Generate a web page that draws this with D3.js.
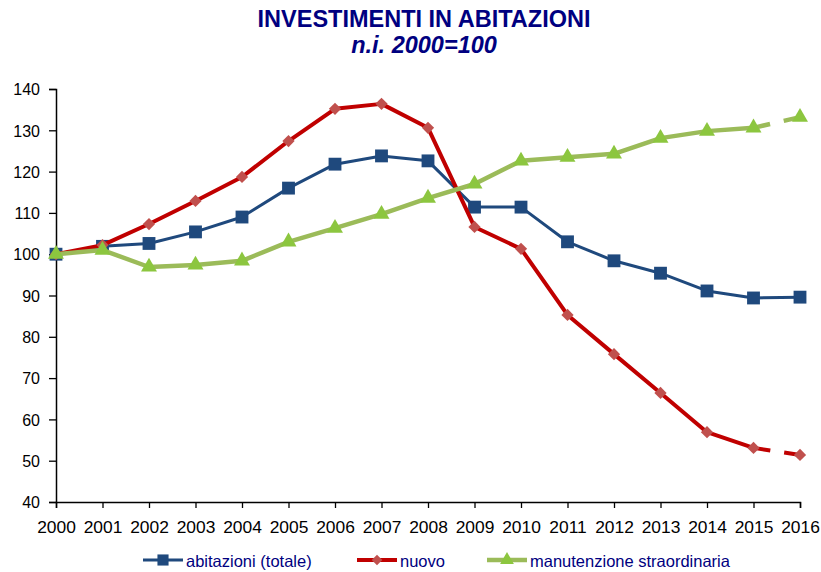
<!DOCTYPE html>
<html>
<head>
<meta charset="utf-8">
<script src="https://d3js.org/d3.v7.min.js"></script>
<style>
  body { margin: 0; background: #fff; }
  text { font-family: "Liberation Sans", Arial, sans-serif; }
</style>
</head>
<body>
<svg id="chart" width="821" height="572"></svg>
<script>
// data
const years = ["2000","2001","2002","2003","2004","2005","2006","2007","2008","2009","2010","2011","2012","2013","2014","2015","2016"];
const totale = [100, 101.9, 102.6, 105.4, 109, 116, 121.8, 123.8, 122.6, 111.4, 111.4, 103, 98.4, 95.4, 91.1, 89.4, 89.6];
const nuovo = [100, 102.2, 107.3, 112.9, 118.7, 127.4, 135.2, 136.4, 130.6, 106.6, 101.3, 85.3, 75.8, 66.4, 56.9, 53.1, 51.4];
const manutenzione = [100, 101, 96.9, 97.4, 98.4, 103, 106.3, 109.7, 113.6, 117, 122.6, 123.5, 124.3, 128.1, 129.8, 130.6, 133.2];
const yTicks = [40, 50, 60, 70, 80, 90, 100, 110, 120, 130, 140];

const series = [
  {name: "abitazioni (totale)", values: totale, line: "#1F497D", marker: "#1F497D", width: 3, shape: d3.symbolSquare, size: 165, rot: 0, dashLast: false},
  {name: "nuovo", values: nuovo, line: "#C00000", marker: "#C0504D", width: 4, shape: d3.symbolSquare, size: 75, rot: 45, dashLast: true},
  {name: "manutenzione straordinaria", values: manutenzione, line: "#9BBB59", marker: "#8CC63F", width: 4.5, shape: d3.symbolTriangle, size: 110, rot: 0, dashLast: true}
];

const svg = d3.select("#chart");

const x = d3.scalePoint().domain(years).range([56, 800]);
const y = d3.scaleLinear().domain([40, 140]).range([502, 89]);

// title
svg.append("text")
  .attr("x", 424).attr("y", 27)
  .attr("text-anchor", "middle")
  .style("font-size", "23.5px").style("font-weight", "bold")
  .attr("fill", "#000080")
  .text("INVESTIMENTI IN ABITAZIONI");
svg.append("text")
  .attr("x", 424).attr("y", 53)
  .attr("text-anchor", "middle")
  .style("font-size", "23.5px").style("font-weight", "bold").style("font-style", "italic")
  .attr("fill", "#000080")
  .text("n.i. 2000=100");

// axes
const yAxis = svg.append("g")
  .attr("transform", "translate(56,0)")
  .call(d3.axisLeft(y).tickValues(yTicks).tickSize(7).tickPadding(9));
const xAxis = svg.append("g")
  .attr("transform", "translate(0,502)")
  .call(d3.axisBottom(x).tickSize(6).tickPadding(13));
[yAxis, xAxis].forEach(function(a) {
  a.select(".domain").attr("stroke", "#000").attr("stroke-width", 1.5);
  a.selectAll(".tick line").attr("stroke", "#000").attr("stroke-width", 1.3);
  a.selectAll(".tick text").attr("fill", "#000")
    .style("font-family", "'Liberation Sans', Arial, sans-serif");
});
yAxis.selectAll(".tick text").style("font-size", "16px").attr("dy", "0.36em");
xAxis.selectAll(".tick text").style("font-size", "17.4px");

const line = d3.line()
  .x(function(d) { return x(d.year); })
  .y(function(d) { return y(d.v); });

series.forEach(function(s) {
  const pts = years.map(function(yr, i) { return {year: yr, v: s.values[i]}; });
  const n = pts.length;
  const g = svg.append("g");
  g.append("path")
    .attr("d", line(s.dashLast ? pts.slice(0, n - 1) : pts))
    .attr("fill", "none")
    .attr("stroke", s.line)
    .attr("stroke-width", s.width)
    .attr("stroke-linejoin", "round");
  if (s.dashLast) {
    g.append("path")
      .attr("d", line(pts.slice(n - 2)))
      .attr("fill", "none")
      .attr("stroke", s.line)
      .attr("stroke-width", s.width)
      .attr("stroke-dasharray", "17,14");
  }
  g.selectAll("path.m").data(pts).enter().append("path")
    .attr("class", "m")
    .attr("transform", function(d) { return "translate(" + x(d.year) + "," + y(d.v) + ") rotate(" + s.rot + ")"; })
    .attr("d", d3.symbol().type(s.shape).size(s.size))
    .attr("fill", s.marker);
});

// legend
const legendX = [143, 357, 487];
series.forEach(function(s, i) {
  const g = svg.append("g").attr("transform", "translate(" + legendX[i] + ",560)");
  g.append("line")
    .attr("x1", 0).attr("x2", 40)
    .attr("stroke", s.line).attr("stroke-width", s.width);
  g.append("path")
    .attr("transform", "translate(20,0) rotate(" + s.rot + ")")
    .attr("d", d3.symbol().type(s.shape).size(s.size * 0.75))
    .attr("fill", s.marker);
  g.append("text")
    .attr("x", 43).attr("y", 6.5)
    .style("font-size", "16.5px")
    .attr("fill", "#000080")
    .text(s.name);
});
</script>
</body>
</html>
